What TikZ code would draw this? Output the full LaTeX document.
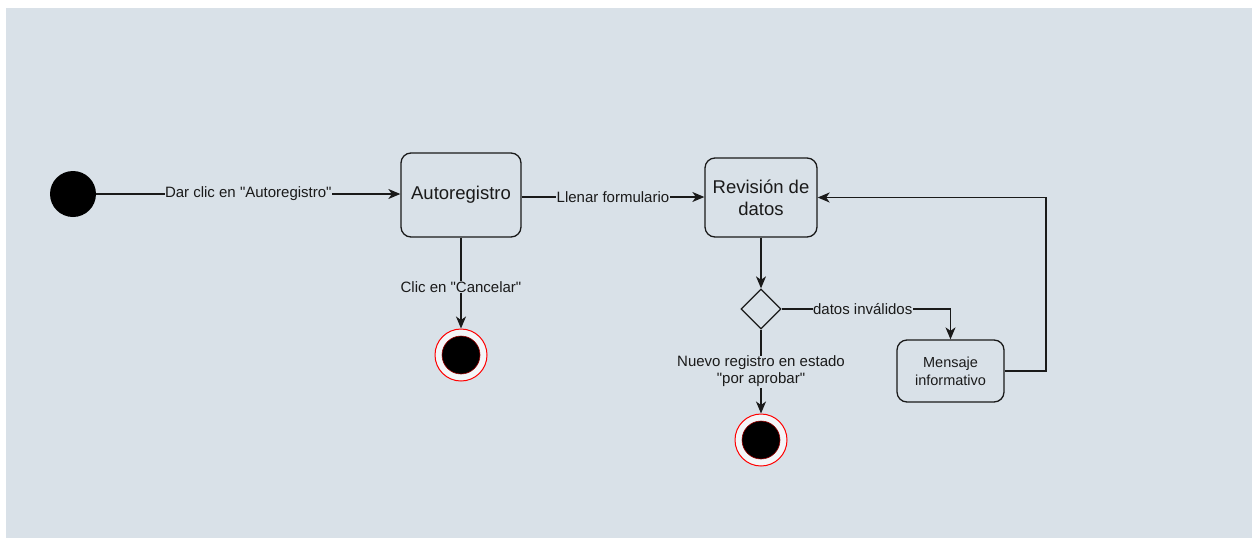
\documentclass[tikz,border=0pt]{standalone}
\usepackage{fontspec}
\setmainfont{Liberation Sans}[Ligatures=TeXOff]
\usetikzlibrary{arrows.meta,shapes.geometric}
\definecolor{bgc}{HTML}{D9E1E8}
\definecolor{ink}{HTML}{1A1A1A}
\begin{document}
\begin{tikzpicture}[x=1pt,y=-1pt,
  statebox/.style={draw=ink, rounded corners=10pt, line width=1.3pt, fill=bgc, align=center, inner sep=0pt, text=ink},
  bigtext/.style={font=\fontsize{18.5}{22}\selectfont},
  smalltext/.style={font=\fontsize{14.5}{18}\selectfont},
  arr/.style={draw=ink, line width=1.3pt, -{Stealth[length=12pt,width=10pt,inset=3.5pt]}},
  lbl/.style={fill=bgc, inner sep=0.5pt, font=\fontsize{15}{17}\selectfont, text=ink, align=center},
  initstate/.style={circle, fill=black, inner sep=0pt, minimum size=46pt},
  finalouter/.style={circle, draw=red, fill=white!70!bgc, line width=1pt, inner sep=0pt, minimum size=52pt},
  finalinner/.style={circle, fill=black, draw=red!60!black, line width=0.6pt, inner sep=0pt, minimum size=38pt}
]
\useasboundingbox (0,0) rectangle (1252,538);
\fill[bgc] (6,8) rectangle (1252,538);

\node[initstate] (init) at (73,194) {};
\node[statebox, bigtext, minimum width=120pt, minimum height=84pt] (auto) at (461,195) {Autoregistro};
\node[statebox, bigtext, minimum width=112pt, minimum height=79pt] (rev) at (761,197.5) {Revisión de\\datos};
\node[diamond, draw=ink, line width=1.3pt, fill=bgc, inner sep=0pt, minimum width=40pt, minimum height=40pt] (dec) at (761,309) {};
\node[statebox, smalltext, minimum width=107pt, minimum height=62pt] (msg) at (950.5,371) {Mensaje\\informativo};
\node[finalouter] (f1) at (461,355) {};
\node[finalinner] (f1i) at (461,355) {};
\node[finalouter] (f2) at (761,440) {};
\node[finalinner] (f2i) at (761,440) {};
\coordinate (c1) at (1046,371);

\draw[arr] (init.east) -- node[lbl]{Dar clic en "Autoregistro"} (auto.west |- init.east);
\draw[arr] (auto.east |- 0,197) -- node[lbl]{Llenar formulario} (rev.west |- 0,197);
\draw[arr] (auto.south) -- node[lbl, pos=0.54]{Clic en "Cancelar"} (f1.north);
\draw[arr] (rev.south) -- (dec.north);
\draw[arr] (dec.east) -- node[lbl, pos=0.48]{datos inválidos} (msg.north |- dec.east) -- (msg.north);
\draw[arr] (dec.south) -- node[lbl, pos=0.5]{Nuevo registro en estado\\"por aprobar"} (f2.north);
\draw[arr] (msg.east) -- (c1) |- (rev.east);
\end{tikzpicture}
\end{document}
